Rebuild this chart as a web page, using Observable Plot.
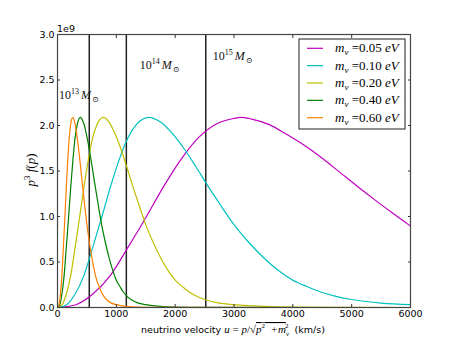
<!DOCTYPE html>
<html><head><meta charset="utf-8">
<script src="https://cdn.jsdelivr.net/npm/d3@7"></script>
<script src="https://cdn.jsdelivr.net/npm/@observablehq/plot@0.6"></script>
<style>body{margin:0;background:#fff}#chart{width:455px;height:341px}</style>
</head><body><div id="chart"></div>
<script>
// ---- data (values of p^3 f(p) in units of 1e9) ----
const masses = ["0.05", "0.10", "0.20", "0.40", "0.60"];
const colors = ["#bf00bf", "#00bfbf", "#bfbf00", "#008000", "#ff8000"];

const u005 = [0,300,600,900,1200,1500,1800,2100,2400,2700,3000,3110,3300,3600,3900,4200,4500,4800,5100,5400,5700,6000];
const f005 = [0,0.028,0.148,0.353,0.664,0.987,1.325,1.628,1.869,2.017,2.078,2.09,2.071,2.01,1.90,1.78,1.64,1.485,1.33,1.18,1.035,0.895];

const u010 = [0,150,300,450,600,750,900,1050,1200,1350,1555,1750,1950,2150,2350,2550,2750,3000,3250,3500,3750,4000,4250,4500,4750,5000,5500,6000];
const f010 = [0,0.028,0.148,0.353,0.664,0.987,1.325,1.628,1.869,2.017,2.09,2.038,1.914,1.747,1.549,1.342,1.146,0.911,0.717,0.55,0.41,0.30,0.228,0.165,0.12,0.088,0.048,0.032];

const u020 = [0,75,150,225,300,375,450,525,600,675,778,875,975,1075,1175,1275,1375,1500,1625,1750,1875,2000,2125,2250,2375,2500,2750,3000,3500,4000,5000,6000];
const f020 = [0,0.028,0.148,0.353,0.664,0.987,1.325,1.628,1.869,2.017,2.09,2.038,1.914,1.747,1.549,1.342,1.146,0.911,0.717,0.55,0.41,0.30,0.228,0.165,0.12,0.088,0.048,0.032,0.013,0.005,0.001,0];

const u040 = [0,38,75,113,150,188,225,263,300,338,389,438,488,538,588,638,688,750,813,875,938,1000,1063,1125,1188,1250,1375,1500,1750,2000,2500,6000];
const f040 = [0,0.028,0.148,0.353,0.664,0.987,1.325,1.628,1.869,2.017,2.09,2.038,1.914,1.747,1.549,1.342,1.146,0.911,0.717,0.55,0.41,0.30,0.228,0.165,0.12,0.088,0.048,0.032,0.013,0.005,0.001,0];

const u060 = [0,25,50,75,100,125,150,175,200,225,259,292,325,358,392,425,458,500,542,583,625,667,708,750,792,833,917,1000,1167,1333,1667,6000];
const f060 = [0,0.028,0.148,0.353,0.664,0.987,1.325,1.628,1.869,2.017,2.09,2.038,1.914,1.747,1.549,1.342,1.146,0.911,0.717,0.55,0.41,0.30,0.228,0.165,0.12,0.088,0.048,0.032,0.013,0.005,0.001,0];

const haloVelocity = [540, 1170, 2520];
const haloExp = ["13", "14", "15"];
const haloLabelU = [25, 1400, 2640];
const haloLabelF = [2.33, 2.66, 2.764];

const xTicks = [0,1000,2000,3000,4000,5000,6000];
const yTicks = [0,0.5,1.0,1.5,2.0,2.5,3.0];

// ---- build table ----
const seriesU = [u005, u010, u020, u040, u060];
const seriesF = [f005, f010, f020, f040, f060];
const rows = [];
masses.forEach((m, k) => seriesU[k].forEach((u, i) => rows.push({m, u, f: seriesF[k][i]})));

const serif = "'Liberation Serif', 'DejaVu Serif', serif";

const chart = Plot.plot({
  width: 455, height: 341,
  marginLeft: 57, marginRight: 45, marginTop: 34, marginBottom: 34,
  style: {fontFamily: "'DejaVu Sans', sans-serif", fontSize: "9.5px", color: "#000", background: "#fff"},
  x: {domain: [0, 6000]},
  y: {domain: [0, 3]},
  color: {domain: masses, range: colors},
  marks: [
    Plot.ruleX(haloVelocity, {stroke: "#222", strokeWidth: 1.5}),
    Plot.line(rows, {x: "u", y: "f", z: "m", stroke: "m", strokeWidth: 1.2, curve: "monotone-x"}),
    Plot.text(haloExp, {x: (d, i) => haloLabelU[i], y: (d, i) => haloLabelF[i], text: d => "10",
      textAnchor: "start", fontFamily: serif, fontSize: 12, fill: "#111"}),
    Plot.axisX(xTicks, {anchor: "bottom", tickSize: -3, tickPadding: 6, tickFormat: d => String(d), label: null, stroke: "#333"}),
    Plot.axisX(xTicks, {anchor: "top", tickSize: -3, tickFormat: () => "", label: null, stroke: "#333"}),
    Plot.axisY(yTicks, {anchor: "left", tickSize: -3, tickPadding: 6, tickFormat: d => d.toFixed(1), label: null, stroke: "#333"}),
    Plot.axisY(yTicks, {anchor: "right", tickSize: -3, tickFormat: () => "", label: null, stroke: "#333"}),
    Plot.frame({stroke: "#444", strokeWidth: 1.2})
  ]
});
document.getElementById("chart").appendChild(chart);

const svg = d3.select(chart);

// halo mass annotations with superscripts
svg.selectAll('g[aria-label="text"] text').each(function(_, i) {
  const t = d3.select(this);
  t.text("");
  t.append("tspan").text("10");
  t.append("tspan").attr("font-size", 8).attr("dy", -5).text(haloExp[i]);
  t.append("tspan").attr("dy", 5).attr("dx", 2).attr("font-style", "italic").text("M");
  t.append("tspan").attr("font-size", 8).attr("dy", 3).attr("dx", 1).text("\u2299");
});

// offset label
svg.append("text").attr("x", 57).attr("y", 31.5).attr("font-size", 9.5).attr("text-anchor", "start")
  .attr("font-family", "'DejaVu Sans', sans-serif").text("1e9");

// y label
const yl = svg.append("text").attr("transform", "translate(35,170) rotate(-90)")
  .attr("text-anchor", "middle").attr("font-family", serif).attr("font-size", 13).attr("font-style", "italic");
yl.append("tspan").text("p");
yl.append("tspan").attr("font-size", 9).attr("dy", -5).attr("font-style", "normal").text("3");
yl.append("tspan").attr("dy", 5).text(" f");
yl.append("tspan").attr("font-style", "normal").text("(");
yl.append("tspan").text("p");
yl.append("tspan").attr("font-style", "normal").text(")");

// x label
const xl = svg.append("text").attr("x", 233).attr("y", 333).attr("text-anchor", "middle")
  .attr("font-size", 9.5).attr("font-family", "'DejaVu Sans', sans-serif");
xl.append("tspan").text("neutrino velocity ");
const ms = (txt, opts = {}) => {
  const s = xl.append("tspan").attr("font-family", serif).attr("font-size", opts.size || 11).text(txt);
  if (opts.italic) s.attr("font-style", "italic");
  if (opts.dy) s.attr("dy", opts.dy);
  if (opts.dx) s.attr("dx", opts.dx);
  if (opts.over) s.attr("text-decoration", "overline");
  return s;
};
ms("u", {italic: true}); ms(" = "); ms("p", {italic: true}); ms("/\u221A");
ms("p", {italic: true, over: true}); ms("2", {size: 7, dy: -5, over: true});
ms("  +m", {italic: true, dy: 5, over: true}); ms("\u03BD", {italic: true, size: 7, dy: 3});
ms("2", {size: 7, dy: -8, dx: -4});
xl.append("tspan").attr("dy", 5).text("  (km/s)");

// legend
const lg = svg.append("g").attr("text-anchor", "start");
lg.append("rect").attr("x", 299).attr("y", 39).attr("width", 106).attr("height", 90)
  .attr("fill", "#fff").attr("stroke", "#444").attr("stroke-width", 1.2);
masses.forEach((m, i) => {
  const cy = 48.3 + i * 17.35;
  lg.append("line").attr("x1", 307).attr("x2", 323).attr("y1", cy).attr("y2", cy)
    .attr("stroke", colors[i]).attr("stroke-width", 1.2);
  const t = lg.append("text").attr("x", 335).attr("y", cy + 4).attr("text-anchor", "start")
    .attr("font-family", serif).attr("font-size", 13);
  t.append("tspan").attr("font-style", "italic").text("m");
  t.append("tspan").attr("font-style", "italic").attr("font-size", 9).attr("dy", 3).text("\u03BD");
  t.append("tspan").attr("dy", -3).text(" =" + m + " ");
  t.append("tspan").attr("font-style", "italic").text("eV");
});
</script></body></html>
